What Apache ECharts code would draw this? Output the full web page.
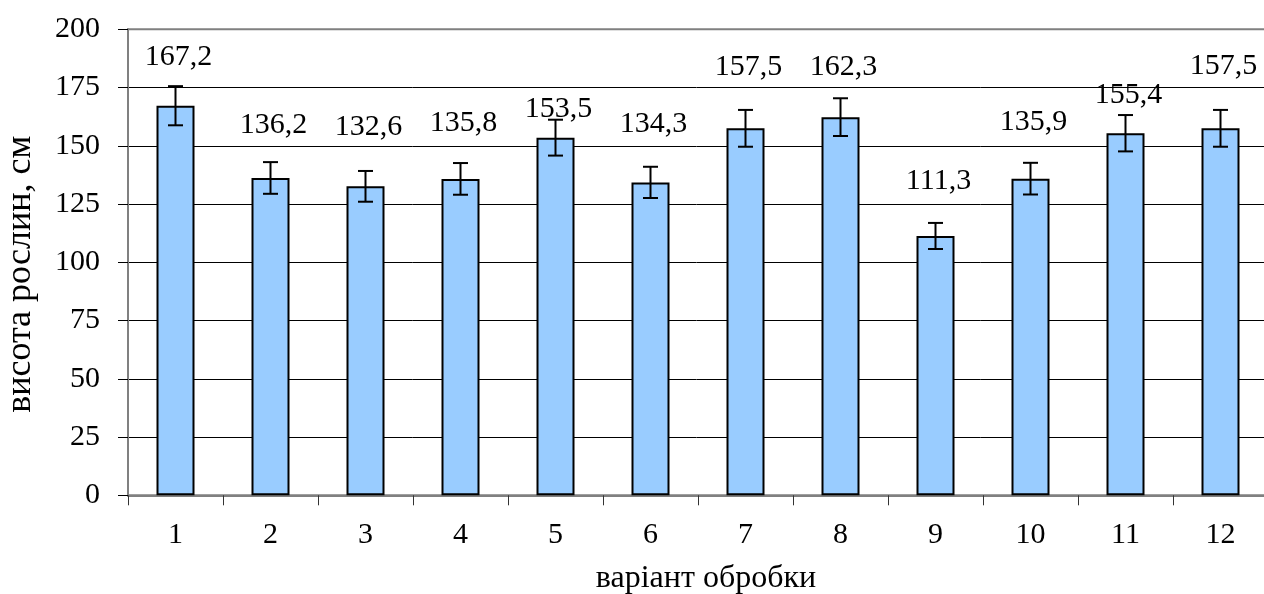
<!DOCTYPE html>
<html>
<head>
<meta charset="utf-8">
<script src="https://cdn.jsdelivr.net/npm/echarts@6/dist/echarts.min.js"></script>
<style>
html,body{margin:0;padding:0;background:#fff;}
#main{width:1264px;height:594px;}
</style>
</head>
<body>
<div id="main"></div>
<script>
var categories = ['1','2','3','4','5','6','7','8','9','10','11','12'];
var heights = [167.2, 136.2, 132.6, 135.8, 153.5, 134.3, 157.5, 162.3, 111.3, 135.9, 155.4, 157.5];
var errors = [8.4, 6.8, 6.6, 6.8, 7.7, 6.7, 7.9, 8.1, 5.6, 6.8, 7.8, 7.9];
var labelTexts = ['167,2','136,2','132,6','135,8','153,5','134,3','157,5','162,3','111,3','135,9','155,4','157,5'];
var labelLevels = [187.9, 158.9, 158.2, 159.7, 165.9, 159.1, 183.6, 183.6, 134.9, 160.0, 171.8, 184.2];
var yTicks = [0, 25, 50, 75, 100, 125, 150, 175, 200];

var FONT = 'Liberation Serif';
var chart = echarts.init(document.getElementById('main'));

var errData = categories.map(function (c, i) { return [i, heights[i], errors[i]]; });
var lblData = categories.map(function (c, i) { return [i, labelLevels[i], labelTexts[i]]; });

var splitColors = yTicks.map(function (t, i) { return i === yTicks.length - 1 ? 'rgba(0,0,0,0)' : '#000'; });

chart.setOption({
  animation: false,
  textStyle: { fontFamily: FONT },
  grid: { left: 128, top: 29.3, width: 1140, height: 466, outerBoundsMode: 'none', containLabel: false, show: true, borderColor: '#808080', borderWidth: 2, backgroundColor: 'transparent' },
  xAxis: {
    type: 'category',
    data: categories,
    boundaryGap: true,
    name: 'варіант обробки',
    nameLocation: 'middle',
    nameGap: 67,
    nameTextStyle: { fontFamily: FONT, fontSize: 32, color: '#000', padding: [0, 0, 0, 16] },
    axisLine: { lineStyle: { color: '#808080', width: 2 } },
    axisTick: { show: true, length: 10, alignWithLabel: false, lineStyle: { color: '#333', width: 1 } },
    axisLabel: { fontFamily: FONT, fontSize: 30, color: '#000', margin: 25 },
    splitLine: { show: false }
  },
  yAxis: {
    type: 'value',
    min: 0, max: 200, interval: 25,
    name: 'висота рослин, см',
    nameLocation: 'middle',
    nameGap: 89,
    nameRotate: 90,
    nameTextStyle: { fontFamily: FONT, fontSize: 36, color: '#000', padding: [0, 24, 0, 0] },
    axisLine: { show: true, lineStyle: { color: '#808080', width: 2 } },
    axisTick: { show: true, length: 10, inside: false, lineStyle: { color: '#000', width: 1 } },
    axisLabel: { fontFamily: FONT, fontSize: 30, color: '#000', margin: 28 },
    splitLine: { show: true, lineStyle: { color: splitColors, width: 1 } }
  },
  series: [
    {
      type: 'bar',
      data: heights,
      barWidth: 38,
      itemStyle: { color: '#99CCFF', borderColor: '#000', borderWidth: 2 },
      z: 2
    },
    {
      type: 'custom',
      data: errData,
      z: 3,
      renderItem: function (params, api) {
        var x = api.value(0), v = api.value(1), e = api.value(2);
        var top = api.coord([x, v + e]);
        var bot = api.coord([x, v - e]);
        var hw = 7.5;
        var st = { stroke: '#000', lineWidth: 2 };
        return {
          type: 'group',
          children: [
            { type: 'line', shape: { x1: top[0], y1: top[1], x2: bot[0], y2: bot[1] }, style: st },
            { type: 'line', shape: { x1: top[0] - hw, y1: top[1], x2: top[0] + hw, y2: top[1] }, style: st },
            { type: 'line', shape: { x1: bot[0] - hw, y1: bot[1], x2: bot[0] + hw, y2: bot[1] }, style: st }
          ]
        };
      }
    },
    {
      type: 'custom',
      data: lblData,
      z: 4,
      renderItem: function (params, api) {
        var p = api.coord([api.value(0), api.value(1)]);
        return {
          type: 'text',
          x: p[0] + 3, y: p[1],
          style: { text: labelTexts[params.dataIndex], fontFamily: FONT, fontSize: 30, fill: '#000', align: 'center', verticalAlign: 'middle' }
        };
      }
    }
  ]
});
</script>
</body>
</html>
